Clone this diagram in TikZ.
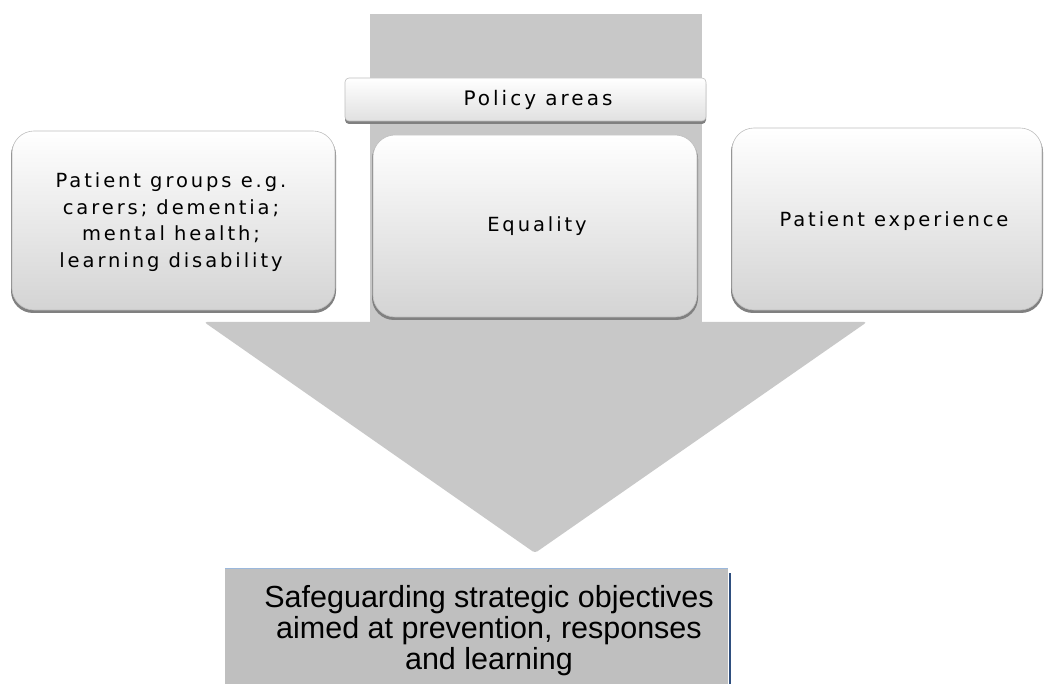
\documentclass[tikz,border=0pt]{standalone}
\usepackage{fontspec}
\newfontfamily\boxfont[LetterSpace=15]{DejaVu Sans}
\newfontfamily\arialfont{Liberation Sans}
\definecolor{colgray}{HTML}{C8C8C8}
\definecolor{botgray}{HTML}{BFBFBF}
\definecolor{lightblue}{HTML}{9BB8DC}
\definecolor{navy}{HTML}{2F4F7F}
\tikzset{
  softbox/.style={rounded corners=22pt, top color=white, bottom color=black!17, draw=black!25, line width=0.6pt},
  softshadow/.style={rounded corners=22pt, fill=black!50},
  pbox/.style={rounded corners=4pt, top color=white, bottom color=black!12, draw=black!25, line width=0.6pt},
  pshadow/.style={rounded corners=4pt, fill=black!50},
  boxtext/.style={font=\boxfont\fontsize{19.5}{26.5}\selectfont, align=center, text=black},
  bottext/.style={font=\arialfont\fontsize{30.5}{31}\selectfont, align=center, text=black}
}
\begin{document}
\begin{tikzpicture}[x=1pt,y=-1pt]
\useasboundingbox (0,0) rectangle (1050,684);
\clip (0,0) rectangle (1050,684);
% grey column and arrow
\fill[colgray] (370,14) rectangle (702,323);
\fill[colgray, rounded corners=3pt] (204,322) -- (867,322) -- (535,553) -- cycle;
% policy areas
\fill[pshadow] (345,80) rectangle (706,124);
\path[pbox] (345,78) rectangle (706,121);
\node[boxtext, font=\boxfont\fontsize{20}{20}\selectfont] (policy) at (538,100) {Policy areas};
% left box
\fill[softshadow] (11,133) rectangle (336,313);
\path[softbox] (12,131) rectangle (335,310);
\node[boxtext] (groups) at (171,222) {Patient groups e.g.\\carers; dementia;\\mental health;\\learning disability};
% centre box
\fill[softshadow] (372,137) rectangle (698,320);
\path[softbox] (373,135) rectangle (697,317);
\node[boxtext] (equality) at (537,226) {Equality};
% right box
\fill[softshadow] (731,130) rectangle (1043,313);
\path[softbox] (732,128) rectangle (1042,310);
\node[boxtext] (experience) at (894,221) {Patient experience};
% bottom box
\fill[botgray] (225,568) rectangle (728,690);
\draw[lightblue, line width=1.2pt] (225,568.6) -- (728,568.6);
\draw[navy, line width=1.5pt] (730,573) -- (730,690);
\node[bottext, anchor=north] (safeguard) at (489,582) {Safeguarding strategic objectives\\aimed at prevention, responses\\and learning};
\end{tikzpicture}
\end{document}
